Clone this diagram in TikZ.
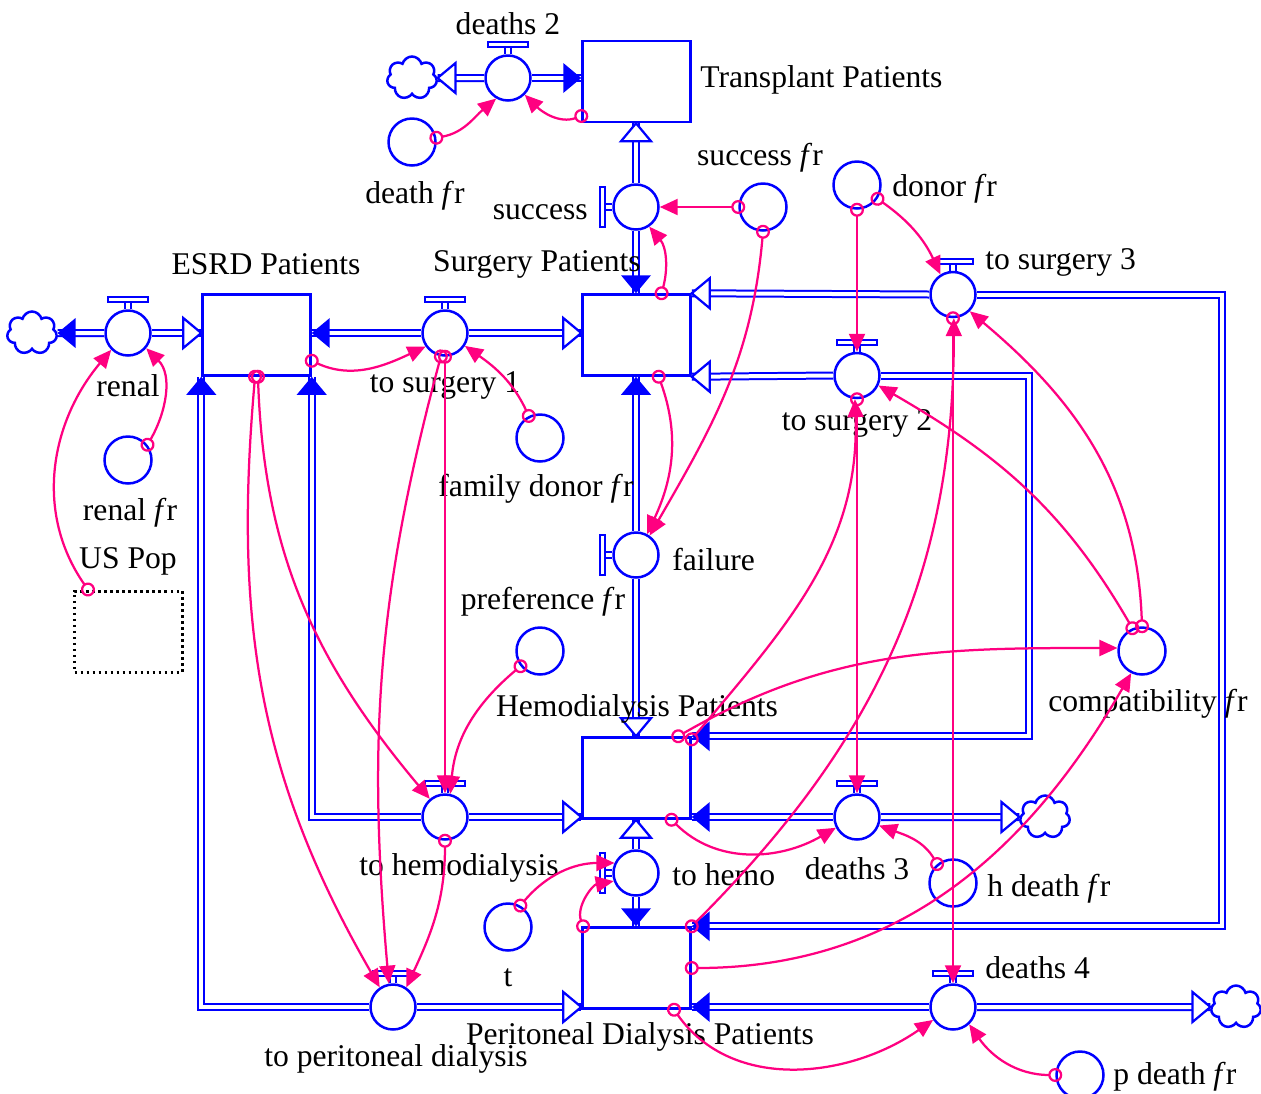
\documentclass[tikz,border=0pt]{standalone}
\usepackage{fontspec}
\setmainfont{Liberation Serif}
\usetikzlibrary{arrows.meta, shapes.symbols, calc}
\definecolor{flowblue}{RGB}{0, 0, 255}
\definecolor{linkpink}{RGB}{255, 0, 128}

\tikzset{
  stockbox/.style={draw=flowblue, line width=0.05cm, minimum width=2.16cm, minimum height=1.62cm, inner sep=0},
  valve/.style={circle, draw=flowblue, fill=white, line width=0.05cm, minimum size=0.9cm, inner sep=0},
  aux/.style={circle, draw=flowblue, line width=0.05cm, minimum size=0.94cm, inner sep=0},
  cloudy/.style={cloud, cloud puffs=7, aspect=1.1, draw=flowblue, line width=0.05cm, minimum width=1.0cm, minimum height=0.86cm, inner sep=0},
  pipe/.style={draw=flowblue, line width=0.04cm, double=white, double distance=0.08cm, line join=miter},
  link/.style={draw=linkpink, line width=0.045cm, shorten <=-0.14cm, {Circle[open, length=0.28cm, width=0.28cm]}-{Triangle[length=0.36cm, width=0.32cm]}},
  lbl/.style={font=\fontsize{18}{21}\selectfont, inner sep=0},
  pics/fullhead/.style={code={\fill[flowblue] (0,0) -- (-18,15) -- (-18,-15) -- cycle;}},
  pics/openhead/.style={code={\draw[flowblue, fill=white, line width=0.045cm, line join=miter] (0,0) -- (-18,15) -- (-18,-15) -- cycle;}},
  pics/valvetop/.style={code={
    \draw[flowblue, line width=0.04cm] (-3,0) -- (-3,-7) (3,0) -- (3,-7);
    \draw[flowblue, line width=0.04cm, fill=white] (-20,-7) rectangle (20,-12);
  }},
}

\begin{document}
\begin{tikzpicture}[x=0.02cm, y=-0.02cm]
  \useasboundingbox (0,0) rectangle (1261,1093);

  % Stocks
  \node[stockbox] (tp) at (636.5,81.5) {};
  \node[stockbox] (esrd) at (256.5,335) {};
  \node[stockbox] (surg) at (636.5,335) {};
  \node[stockbox] (hemo) at (636.5,778) {};
  \node[stockbox] (pd) at (636.5,968) {};
  \node[stockbox, draw=black, dotted, line width=0.06cm] (uspop) at (128.5,631.5) {};

  % Clouds
  \node[cloudy] (c1) at (32,333) {};
  \node[cloudy] (c2) at (412,78) {};
  \node[cloudy] (c3) at (1045,817) {};
  \node[cloudy] (c4) at (1236,1007) {};

  % Flows (valves)
  \node[valve] (d2) at (508,78) {};
  \node[valve] (renal) at (128,333) {};
  \node[valve] (ts1) at (445,333) {};
  \node[valve] (succ) at (636,207) {};
  \node[valve] (fail) at (636,555) {};
  \node[valve] (ts3) at (953,294.5) {};
  \node[valve] (ts2) at (857,375.5) {};
  \node[valve] (toh) at (445,817) {};
  \node[valve] (topd) at (393,1007) {};
  \node[valve] (thm) at (636,873) {};
  \node[valve] (d3) at (857,817) {};
  \node[valve] (d4) at (953,1007) {};
  \foreach \v in {d2,renal,ts1,ts3,ts2,toh,topd,d3,d4}
    \pic at (\v.north) {valvetop};
  \foreach \v in {succ,fail,thm}
    \pic[rotate=90] at (\v.west) {valvetop};

  % Converters
  \node[aux] (deathfr) at (412,142) {};
  \node[aux] (succfr) at (763,207) {};
  \node[aux] (donorfr) at (857,185) {};
  \node[aux] (renalfr) at (128,460) {};
  \node[aux] (famfr) at (540,438) {};
  \node[aux] (preffr) at (540,651) {};
  \node[aux] (compfr) at (1142,651) {};
  \node[aux] (tconv) at (508,927) {};
  \node[aux] (hdeathfr) at (953,883) {};
  \node[aux] (pdeathfr) at (1080,1075) {};

  % Pipes
  \draw[pipe] (c2.east) -- (d2.west);
  \draw[pipe] (d2.east) -- (d2.east -| tp.west);
  \pic at (d2.east -| tp.west) {fullhead};
  \pic[rotate=180] at (c2.east) {openhead};

  \draw[pipe] (c1.east) -- (renal.west);
  \draw[pipe] (renal.east) -- (renal.east -| esrd.west);
  \pic[rotate=180] at (c1.east) {fullhead};
  \pic at (renal.east -| esrd.west) {openhead};

  \draw[pipe] (ts1.west -| esrd.east) -- (ts1.west);
  \draw[pipe] (ts1.east) -- (ts1.east -| surg.west);
  \pic[rotate=180] at (ts1.west -| esrd.east) {fullhead};
  \pic at (ts1.east -| surg.west) {openhead};

  \draw[pipe] (succ.south |- surg.north) -- (succ.south);
  \draw[pipe] (succ.north) -- (succ.north |- tp.south);
  \pic[rotate=-90] at (succ.south |- surg.north) {fullhead};
  \pic[rotate=90] at (succ.north |- tp.south) {openhead};

  \draw[pipe] (fail.north |- surg.south) -- (fail.north);
  \draw[pipe] (fail.south) -- (fail.south |- hemo.north);
  \pic[rotate=90] at (fail.north |- surg.south) {fullhead};
  \pic[rotate=-90] at (fail.south |- hemo.north) {openhead};

  \draw[pipe] (surg.north east) -- (ts3.west);
  \draw[pipe] (ts3.east) -- ++(245,0) |- (pd.north east);
  \pic[rotate=180] at (surg.north east) {openhead};
  \pic[rotate=180] at (pd.north east) {fullhead};

  \draw[pipe] (surg.south east) -- (ts2.west);
  \draw[pipe] (ts2.east) -- ++(148,0) |- (hemo.north east);
  \pic[rotate=180] at (surg.south east) {openhead};
  \pic[rotate=180] at (hemo.north east) {fullhead};

  \draw[pipe] (esrd.south east) |- (toh.west);
  \draw[pipe] (toh.east) -- (toh.east -| hemo.west);
  \pic[rotate=90] at (esrd.south east) {fullhead};
  \pic at (toh.east -| hemo.west) {openhead};

  \draw[pipe] (esrd.south west) |- (topd.west);
  \draw[pipe] (topd.east) -- (topd.east -| pd.west);
  \pic[rotate=90] at (esrd.south west) {fullhead};
  \pic at (topd.east -| pd.west) {openhead};

  \draw[pipe] (thm.south |- pd.north) -- (thm.south);
  \draw[pipe] (thm.north) -- (thm.north |- hemo.south);
  \pic[rotate=-90] at (thm.south |- pd.north) {fullhead};
  \pic[rotate=90] at (thm.north |- hemo.south) {openhead};

  \draw[pipe] (d3.west -| hemo.east) -- (d3.west);
  \draw[pipe] (d3.east) -- (c3.west);
  \pic[rotate=180] at (d3.west -| hemo.east) {fullhead};
  \pic at (c3.west) {openhead};

  \draw[pipe] (d4.west -| pd.east) -- (d4.west);
  \draw[pipe] (d4.east) -- (c4.west);
  \pic[rotate=180] at (d4.west -| pd.east) {fullhead};
  \pic at (c4.west) {openhead};

  % Labels
  \node[lbl] (d2l) at (508,24) {deaths 2};
  \node[lbl, anchor=west] (tpl) at (700,80) {Transplant Patients};
  \node[lbl] (succfrl) at (760,158) {success \textit{f}r};
  \node[lbl] (deathfrl) at (415,196) {death \textit{f}r};
  \node[lbl, anchor=east] (succl) at (588,212) {success};
  \node[lbl, anchor=west] (donorfrl) at (892,189) {donor \textit{f}r};
  \node[lbl, anchor=west] (ts3l) at (985,262) {to surgery 3};
  \node[lbl] (esrdl) at (266,264) {ESRD Patients};
  \node[lbl] (surgl) at (537,264) {Surgery Patients};
  \node[lbl] (renall) at (128,386) {renal};
  \node[lbl] (ts1l) at (445,385) {to surgery 1};
  \node[lbl] (ts2l) at (857,423) {to surgery 2};
  \node[lbl] (famfrl) at (536,489) {family donor \textit{f}r};
  \node[lbl] (renalfrl) at (130,513) {renal \textit{f}r};
  \node[lbl] (uspopl) at (128,561) {US Pop};
  \node[lbl, anchor=west] (faill) at (672,560) {failure};
  \node[lbl] (preffrl) at (543,602) {preference \textit{f}r};
  \node[lbl] (hemol) at (637,709) {Hemodialysis Patients};
  \node[lbl] (compfrl) at (1148,704) {compatibility \textit{f}r};
  \node[lbl] (tohl) at (459,868) {to hemodialysis};
  \node[lbl] (d3l) at (857,869) {deaths 3};
  \node[lbl, anchor=west] (thml) at (672,875) {to hemo};
  \node[lbl, anchor=west] (hdeathfrl) at (987,889) {h death \textit{f}r};
  \node[lbl] (tl) at (508,978) {t};
  \node[lbl, anchor=west] (d4l) at (985,968) {deaths 4};
  \node[lbl] (pdl) at (640,1037) {Peritoneal Dialysis Patients};
  \node[lbl] (topdl) at (396,1059) {to peritoneal dialysis};
  \node[lbl, anchor=west] (pdeathfrl) at (1113,1077) {p death \textit{f}r};

  % Connectors
  \draw[link] (deathfr.10) to[out=10, in=220] (d2.240);
  \draw[link] (tp.212) to[out=200, in=-45] (d2.-45);
  \draw[link] (succfr.west) -- (succ.east);
  \draw[link] (succfr.south) to[out=-95, in=60] (fail.55);
  \draw[link] (surg.59) to[out=75, in=-50] (succ.-56);
  \draw[link] (surg.-62) to[out=-70, in=65] (fail.62);
  \draw[link] (donorfr.south) -- (ts2.north);
  \draw[link] (donorfr.-34) to[out=-35, in=115] (ts3.122);
  \draw[link] (renalfr.38) to[out=60, in=-45] (renal.-40);
  \draw[link] (uspop.134) to[out=125, in=-130] (renal.-135);
  \draw[link] (esrd.-25) to[out=-25, in=205] (ts1.-145);
  \draw[link] (famfr.117) to[out=115, in=-35] (ts1.-33);
  \draw[link] (ts1.south) -- (toh.north);
  \draw[link] (ts1.-100) to[out=-105, in=95] (topd.100);
  \draw[link] (esrd.-88) to[out=-88, in=130] (toh.130);
  \draw[link] (esrd.-92) to[out=-95, in=120] (topd.124);
  \draw[link] (preffr.218) to[out=220, in=85] (toh.77);
  \draw[link] (toh.south) to[out=-90, in=65] (topd.56);
  \draw[link] (tconv.60) to[out=50, in=180] (thm.155);
  \draw[link] (pd.142) to[out=110, in=190] (thm.200);
  \draw[link] (hemo.-50) to[out=-45, in=210] (d3.207);
  \draw[link] (hdeathfr.130) to[out=120, in=-20] (d3.-21);
  \draw[link] (hemo.45) to[out=30, in=180] (compfr.173);
  \draw[link] (hemo.35) to[out=50, in=-88] (ts2.-95);
  \draw[link] (compfr.113) to[out=120, in=-30] (ts2.-25);
  \draw[link] (compfr.north) to[out=92, in=-40] (ts3.-45);
  \draw[link] (pd.east) to[out=0, in=-120] (compfr.244);
  \draw[link] (ts3.south) -- (d4.north);
  \draw[link] (pd.north east) to[out=45, in=-90] (ts3.-88);
  \draw[link] (ts2.south) -- (d3.north);
  \draw[link] (pd.-48) to[out=-55, in=215] (d4.213);
  \draw[link] (pdeathfr.west) to[out=180, in=-55] (d4.-47);
\end{tikzpicture}
\end{document}
